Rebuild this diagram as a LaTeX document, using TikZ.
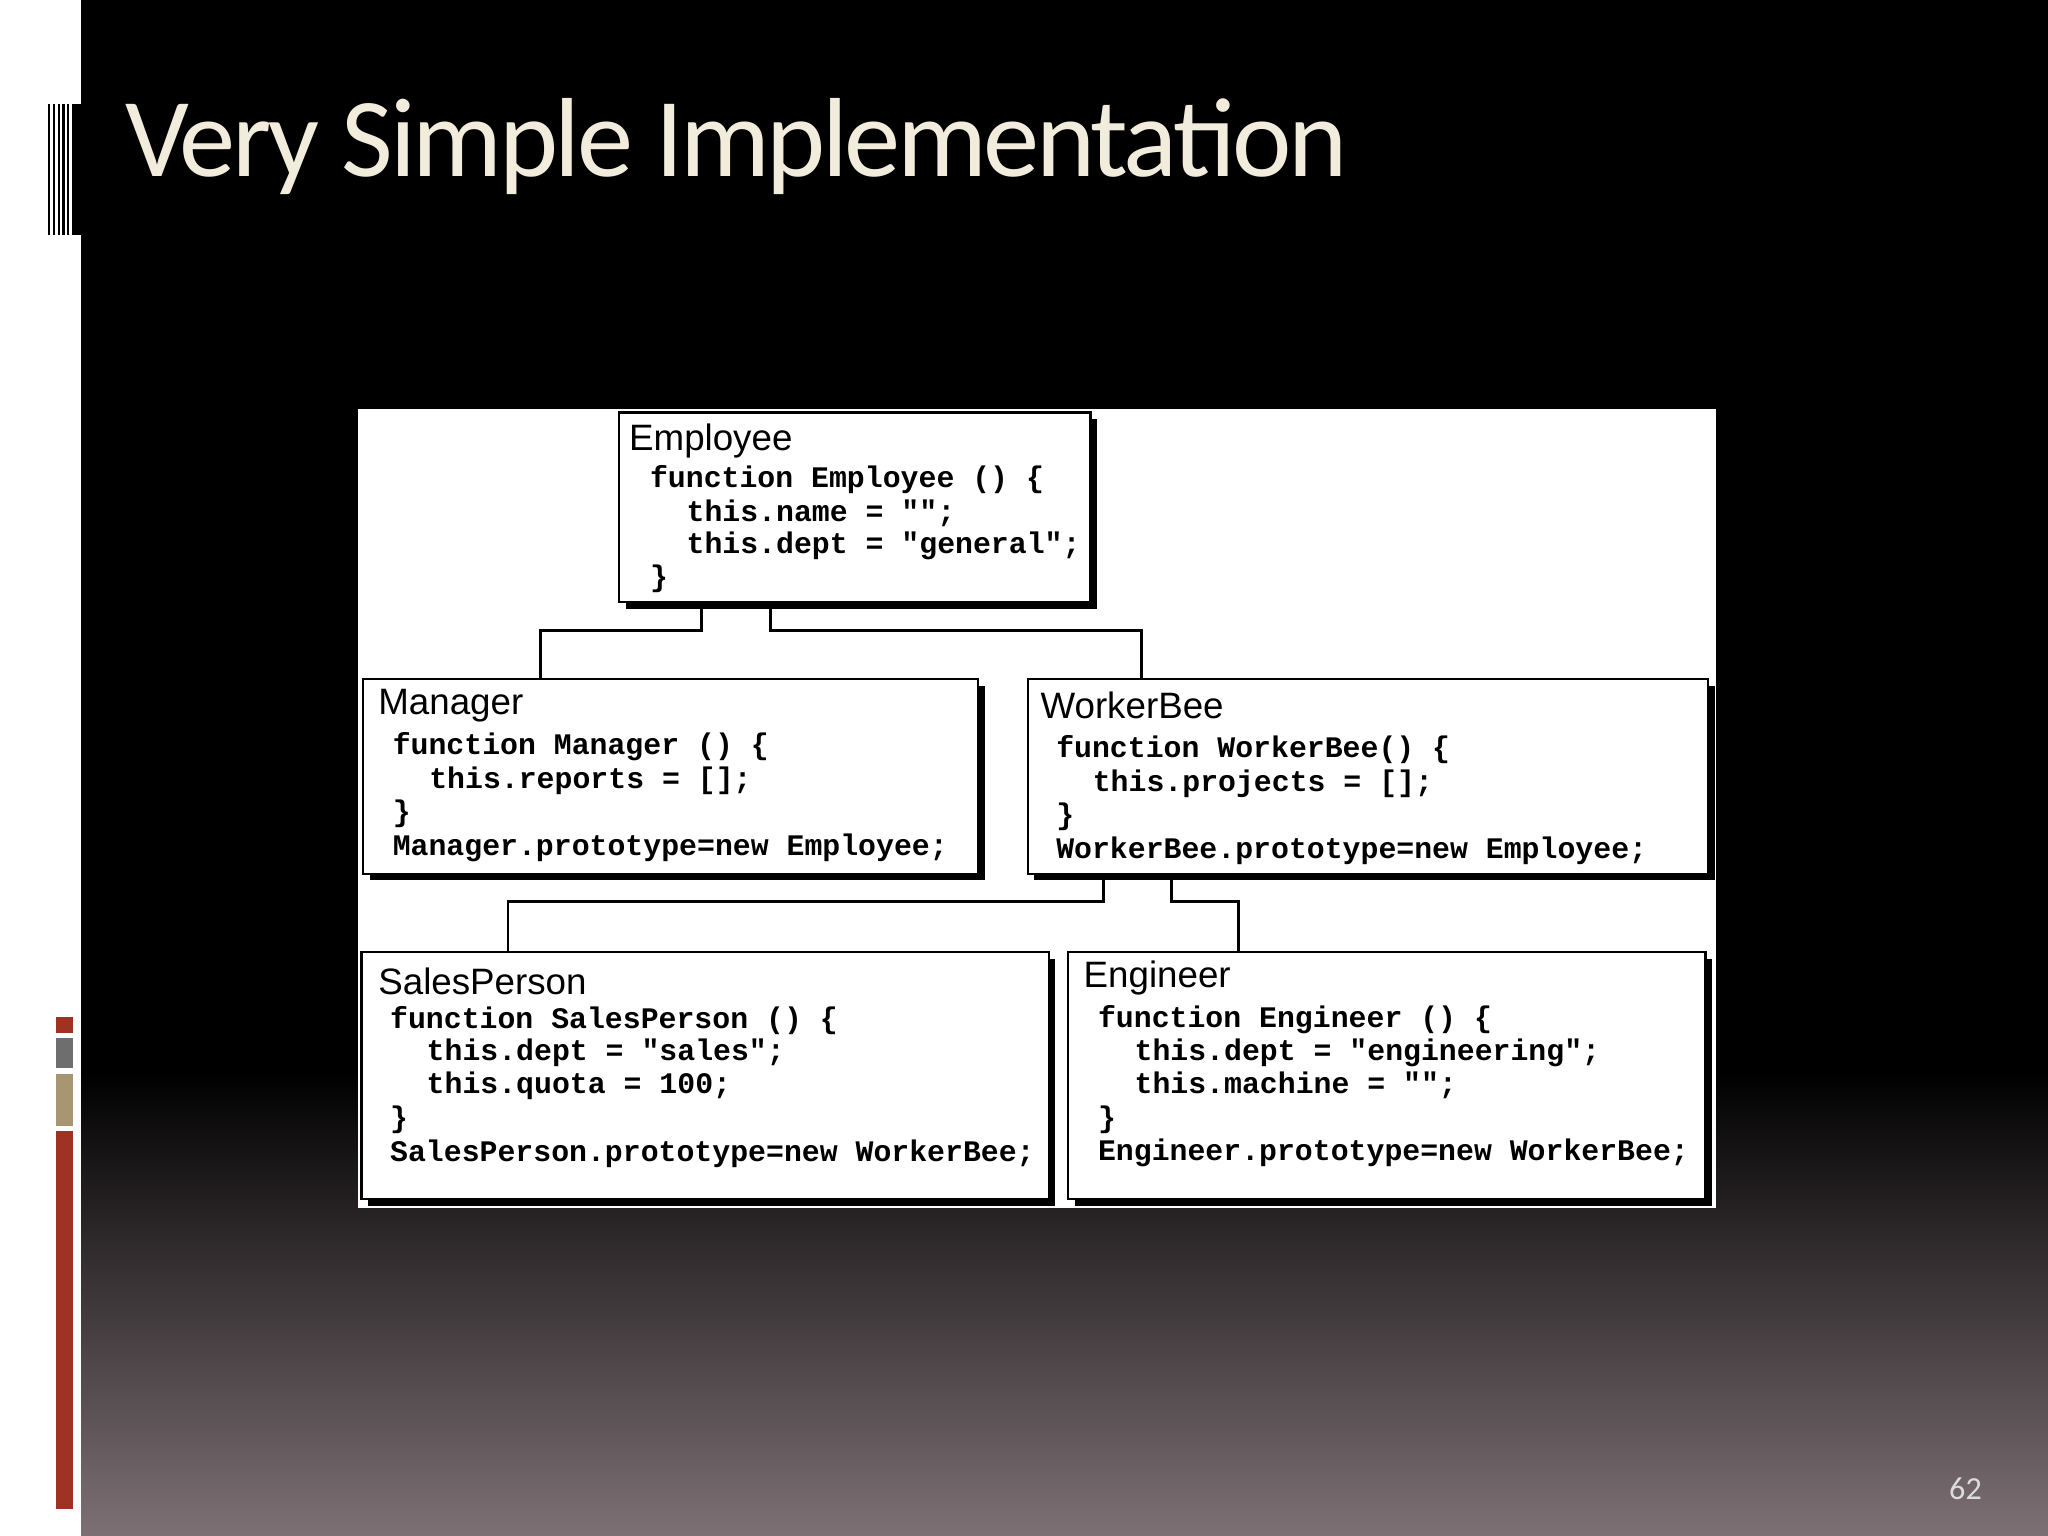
\documentclass[tikz,border=0pt]{standalone}
\usepackage{fontspec}
\setmainfont{Carlito}
\newfontfamily\codefont{Liberation Mono}
\newfontfamily\headfont{Liberation Sans}
\definecolor{barred}{RGB}{160,50,35}
\definecolor{bargray}{RGB}{110,110,110}
\definecolor{bartan}{RGB}{168,150,115}
\definecolor{bgbottom}{RGB}{125,112,116}
\definecolor{titlecol}{RGB}{242,236,220}
\definecolor{pgcol}{RGB}{220,220,220}
\begin{document}
\begin{tikzpicture}[x=0.1mm,y=-0.1mm,
  box/.style={draw=black,line width=0.5pt,fill=white},
  code/.style={anchor=west,inner sep=0pt,font=\codefont\bfseries\fontsize{6.5}{7}\selectfont},
  head/.style={anchor=west,inner sep=0pt,font=\headfont\fontsize{8}{9}\selectfont},
  conn/.style={draw=black,line width=0.6pt}]
\useasboundingbox (0,0) rectangle (1568,1176);
\fill[black] (62,0) rectangle (1568,820);
\shade[top color=black,bottom color=bgbottom] (62,819) rectangle (1568,1176);
\fill[white] (0,0) rectangle (62,1176);
\foreach \i in {0,...,6}{\fill[black] (37+\i*3.6,80) rectangle (38.6+\i*3.6,180);}
\fill[black] (55,80) rectangle (62,180);
\fill[barred] (43,779) rectangle (56,791);
\fill[bargray] (43,795) rectangle (56,818);
\fill[bartan] (43,822) rectangle (56,862);
\fill[barred] (43,866) rectangle (56,1155);
\node[anchor=base west,inner sep=0pt,text=titlecol,font=\fontsize{24.5}{28}\selectfont\addfontfeature{LetterSpace=-3}] (title) at (95,135) {Very Simple Implementation};
\node[anchor=east,inner sep=0pt,text=pgcol,font=\fontsize{7}{8}\selectfont] (pg) at (1518,1140) {62};
\fill[white] (274,313) rectangle (1314,925);
\fill[black] (479,321) rectangle (840,466);
\fill[black] (283,525) rectangle (754,674);
\fill[black] (792,525) rectangle (1313,674);
\fill[black] (282,734) rectangle (808,923);
\fill[black] (823,734) rectangle (1311,923);
\node[box,anchor=north west,minimum width=3.61cm,minimum height=1.45cm,inner sep=0pt] (emp) at (473,315) {};
\node[box,anchor=north west,minimum width=4.71cm,minimum height=1.49cm,inner sep=0pt] (mgr) at (277,519) {};
\node[box,anchor=north west,minimum width=5.21cm,minimum height=1.49cm,inner sep=0pt] (wb) at (786,519) {};
\node[box,anchor=north west,minimum width=5.26cm,minimum height=1.89cm,inner sep=0pt] (sp) at (276,728) {};
\node[box,anchor=north west,minimum width=4.88cm,minimum height=1.89cm,inner sep=0pt] (eng) at (817,728) {};
\coordinate (e1) at (537,483); \coordinate (e2) at (590,483);
\draw[conn] (emp.south -| e1) -- (e1) -| (mgr.north -| 414,0);
\draw[conn] (emp.south -| e2) -- (e2) -| (wb.north -| 874,0);
\coordinate (w1) at (845,690); \coordinate (w2) at (897,690);
\draw[conn] (wb.south -| w1) -- (w1) -| (sp.north -| 389,0);
\draw[conn] (wb.south -| w2) -- (w2) -| (eng.north -| 948,0);
\node[head] (t1) at (481,338) {Employee};
\node[code] (c11) at (497,367) {function Employee () \{};
\node[code] (c12) at (525,393) {this.name = "";};
\node[code] (c13) at (525,418) {this.dept = "general";};
\node[code] (c14) at (497,443) {\}};
\node[head] (t2) at (289,540) {Manager};
\node[code] (c21) at (300,572) {function Manager () \{};
\node[code] (c22) at (328,598) {this.reports = [];};
\node[code] (c23) at (300,623) {\}};
\node[code] (c24) at (300,649) {Manager.prototype=new Employee;};
\node[head] (t3) at (796,540) {WorkerBee};
\node[code] (c31) at (808,574) {function WorkerBee() \{};
\node[code] (c32) at (836,600) {this.projects = [];};
\node[code] (c33) at (808,625) {\}};
\node[code] (c34) at (808,651) {WorkerBee.prototype=new Employee;};
\node[head] (t4) at (289,751) {SalesPerson};
\node[code] (c41) at (298,781) {function SalesPerson () \{};
\node[code] (c42) at (326,806) {this.dept = "sales";};
\node[code] (c43) at (326,831) {this.quota = 100;};
\node[code] (c44) at (298,857) {\}};
\node[code] (c45) at (298,883) {SalesPerson.prototype=new WorkerBee;};
\node[head] (t5) at (829,749) {Engineer};
\node[code] (c51) at (840,781) {function Engineer () \{};
\node[code] (c52) at (868,806) {this.dept = "engineering";};
\node[code] (c53) at (868,831) {this.machine = "";};
\node[code] (c54) at (840,857) {\}};
\node[code] (c55) at (840,883) {Engineer.prototype=new WorkerBee;};
\end{tikzpicture}
\end{document}
